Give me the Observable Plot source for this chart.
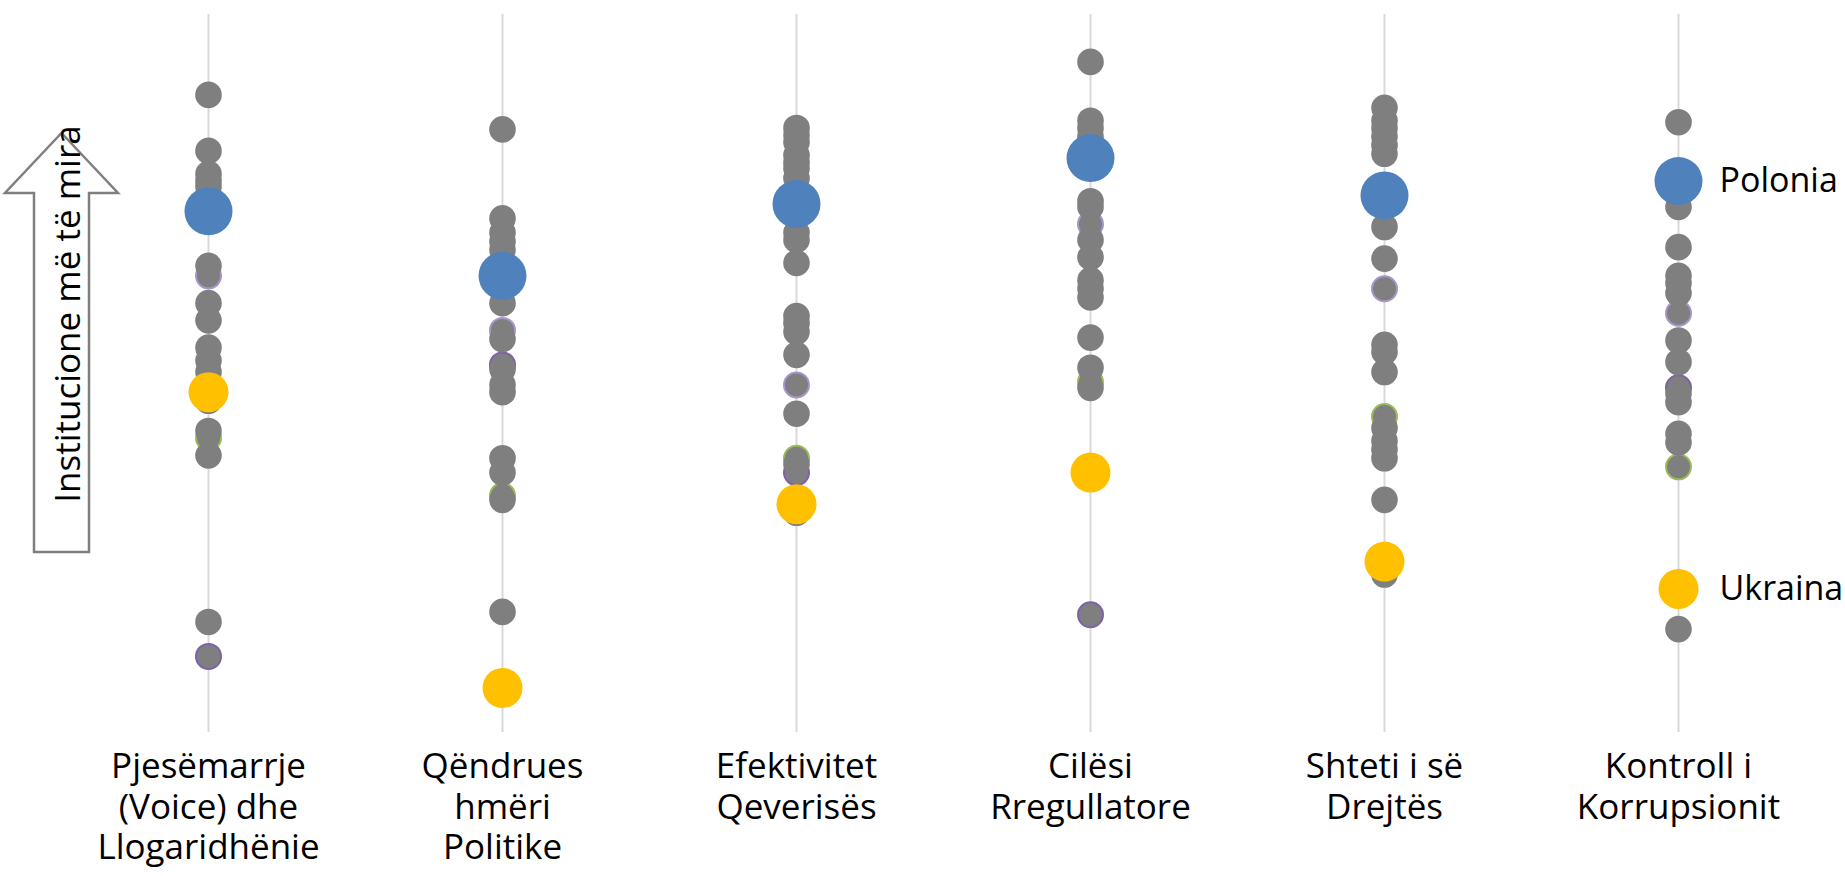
<!DOCTYPE html>
<html>
<head>
<meta charset="utf-8">
<script src="https://cdn.jsdelivr.net/npm/d3@7"></script>
<script src="https://cdn.jsdelivr.net/npm/@observablehq/plot@0.6"></script>
<style>
  html, body { margin: 0; padding: 0; background: #ffffff; }
  #wrap { position: relative; width: 1845px; height: 876px; overflow: hidden; font-family: "Open Sans", sans-serif; }
  #wrap svg { overflow: visible; }
  #arrow { position: absolute; left: 0; top: 0; pointer-events: none; }
</style>
</head>
<body>
<div id="wrap">
  <svg id="arrow" width="140" height="600" xmlns="http://www.w3.org/2000/svg">
    <path d="M61.5,133 L118,193 L89,193 L89,552 L34,552 L34,193 L5,193 Z" fill="#ffffff" stroke="#7f7f7f" stroke-width="2.5"/>
    <text transform="translate(80,314) rotate(-90)" text-anchor="middle" font-family="Open Sans" font-size="35" fill="#000000">Institucione më të mira</text>
  </svg>
</div>
<script>
// Categories (WGI dimensions)
const categories = [
  "Pjesëmarrje\n(Voice) dhe\nLlogaridhënie",
  "Qëndrues\nhmëri\nPolitike",
  "Efektivitet\nQeverisës",
  "Cilësi\nRregullatore",
  "Shteti i së\nDrejtës",
  "Kontroll i\nKorrupsionit"
];

// Highlighted countries
const poloniaValues = [1.13, 0.68, 1.18, 1.50, 1.24, 1.34];
const ukrainaValues = [-0.13, -2.19, -0.91, -0.69, -1.31, -1.50];

// Outlined comparison countries
const lilacValues  = [0.68, 0.30, -0.08, 1.04, 0.59, 0.42];
const purpleValues = [-1.97, 0.06, -0.69, -1.68, null, -0.10];
const greenValues  = [-0.45, -0.85, -0.59, -0.06, -0.30, -0.65];

// Other countries (grey), one list per category
const otherVoice = [1.94, 1.55, 1.39, 1.34, 1.30, 0.75, 0.49, 0.37, 0.18, 0.09, 0.01, -0.19, -0.40, -0.57, -1.73];
const otherStability = [1.70, 1.08, 0.98, 0.92, 0.86, 0.49, 0.24, 0.03, -0.08, -0.13, -0.59, -0.69, -0.88, -1.66];
const otherEffectiveness = [1.71, 1.66, 1.61, 1.52, 1.47, 1.43, 1.36, 0.98, 0.93, 0.77, 0.40, 0.35, 0.29, 0.13, -0.28, -0.63, -0.97];
const otherRegulatory = [2.17, 1.76, 1.71, 1.65, 1.20, 1.16, 0.93, 0.81, 0.65, 0.59, 0.53, 0.25, 0.04, -0.10];
const otherRuleOfLaw = [1.85, 1.76, 1.71, 1.65, 1.59, 1.53, 1.02, 0.80, 0.20, 0.15, 0.01, -0.38, -0.47, -0.53, -0.59, -0.88, -1.40];
const otherCorruption = [1.75, 1.16, 0.88, 0.68, 0.63, 0.56, 0.23, 0.08, -0.14, -0.20, -0.42, -0.48, -1.78];

const seriesLabels = ["Polonia", "Ukraina"];

// Build tables
const otherLists = [otherVoice, otherStability, otherEffectiveness, otherRegulatory, otherRuleOfLaw, otherCorruption];
const others = categories.flatMap((c, i) => otherLists[i].map(v => ({category: c, value: v})));
const toRows = vals => categories.map((c, i) => ({category: c, value: vals[i]})).filter(d => d.value != null);
const polonia = toRows(poloniaValues);
const ukraina = toRows(ukrainaValues);
const lilac = toRows(lilacValues);
const purple = toRows(purpleValues);
const green = toRows(greenValues);
const last = categories[categories.length - 1];
const labels = [
  {category: last, value: poloniaValues[poloniaValues.length - 1], label: seriesLabels[0]},
  {category: last, value: ukrainaValues[ukrainaValues.length - 1], label: seriesLabels[1]}
];

const grey = "#7f7f7f";
const chart = Plot.plot({
  width: 1845,
  height: 876,
  marginTop: 14,
  marginBottom: 144,
  marginLeft: 206,
  marginRight: 166,
  style: {fontFamily: "Open Sans", color: "#000000", background: "transparent", overflow: "visible"},
  x: {type: "point", domain: categories, padding: 0},
  y: {domain: [-2.5, 2.5], axis: null},
  marks: [
    Plot.ruleX(categories, {stroke: "#d9d9d9", strokeWidth: 2}),
    Plot.dot(lilac, {x: "category", y: "value", r: 12.5, fill: grey, stroke: "#a795cc", strokeWidth: 2}),
    Plot.dot(purple, {x: "category", y: "value", r: 12.5, fill: grey, stroke: "#7d62a8", strokeWidth: 2}),
    Plot.dot(green, {x: "category", y: "value", r: 12.5, fill: grey, stroke: "#9bbb59", strokeWidth: 2}),
    Plot.dot(others, {x: "category", y: "value", r: 13.3, fill: grey}),
    Plot.dot(polonia, {x: "category", y: "value", r: 24, fill: "#4f81bd"}),
    Plot.dot(ukraina, {x: "category", y: "value", r: 20, fill: "#ffc000"}),
    Plot.text(labels, {x: "category", y: "value", text: "label", textAnchor: "start", dx: 41, fontSize: 34, fill: "#000000"}),
    Plot.axisX({tickSize: 0, tickPadding: 17, fontSize: 35, lineHeight: 1.157, label: null, fill: "#000000"})
  ]
});
document.getElementById("wrap").insertBefore(chart, document.getElementById("arrow"));
</script>
</body>
</html>
